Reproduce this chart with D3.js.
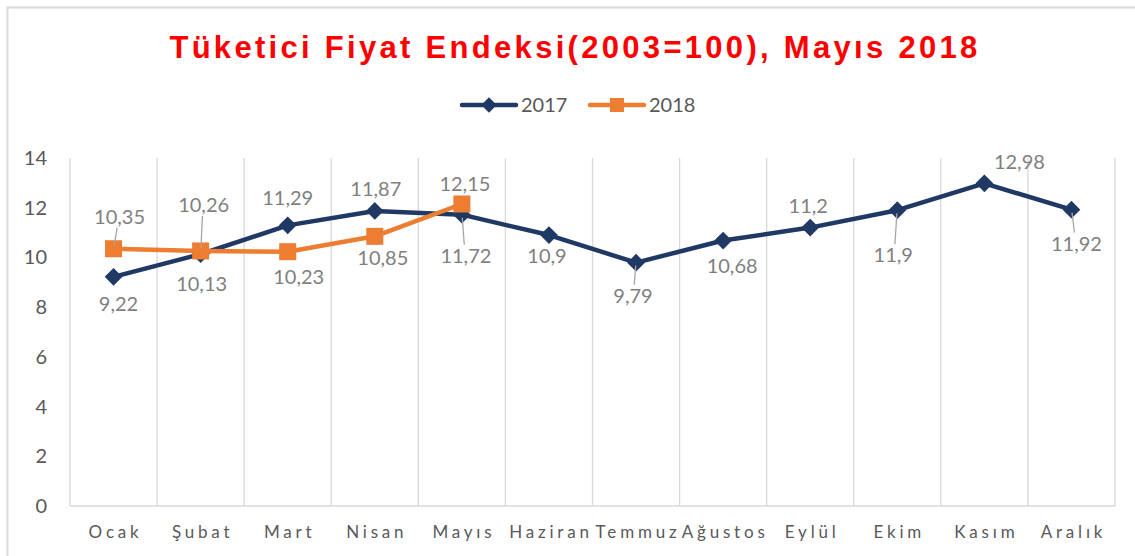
<!DOCTYPE html>
<html>
<head>
<meta charset="utf-8">
<script src="https://cdn.jsdelivr.net/npm/d3@7"></script>
<style>
  body { margin: 0; background: #fff; }
  svg { display: block; }
</style>
</head>
<body>
<script>
// veri
const months = ['Ocak', 'Şubat', 'Mart', 'Nisan', 'Mayıs', 'Haziran', 'Temmuz', 'Ağustos', 'Eylül', 'Ekim', 'Kasım', 'Aralık'];
const values2017 = [9.22, 10.13, 11.29, 11.87, 11.72, 10.9, 9.79, 10.68, 11.2, 11.9, 12.98, 11.92];
const values2018 = [10.35, 10.26, 10.23, 10.85, 12.15];
const yTicks = [0, 2, 4, 6, 8, 10, 12, 14];
const title = 'Tüketici Fiyat Endeksi(2003=100), Mayıs 2018';

// etiket konumlari (noktaya gore kaydirma) ve kilavuz cizgisi
const labelPos2017 = [
    [5, 27, false], [1, 30, false], [0, -27, false], [1, -22, false], [4, 41, true], [-2, 21, false],
    [-3, 33, true], [9, 25, false], [-2, -22, false], [-4, 45, true], [35, -21, false], [5, 34, true]
];
const labelPos2018 = [
    [6, -32, true], [3, -46, true], [11, 25, false], [8, 22, false], [3, -20, false]
];

const width = 1135;
const height = 556;
const margin = {top: 158, left: 70, right: 20, bottom: 50};
const navy = '#203864';
const orange = '#ED7D31';
const gray = '#595959';
const labelGray = '#7f7f7f';

const svg = d3.select('body')
    .append('svg')
    .attr('width', width)
    .attr('height', height);

// cerceve
svg.append('path')
    .attr('d', 'M7.5,' + height + ' V7.5 H' + width)
    .attr('fill', 'none')
    .attr('stroke', '#d9d9d9')
    .attr('stroke-width', 2);

svg.append('text')
    .attr('x', 575)
    .attr('y', 58)
    .attr('text-anchor', 'middle')
    .attr('font-family', 'Liberation Sans, Arial, sans-serif')
    .attr('font-weight', 'bold')
    .attr('font-size', 31)
    .attr('letter-spacing', 3.3)
    .attr('fill', '#ff0000')
    .text(title);

const xScale = d3.scaleBand()
    .domain(months)
    .range([margin.left, width - margin.right]);
const bw = xScale.bandwidth();
const cx = m => xScale(m) + bw / 2;

const yScale = d3.scaleLinear()
    .domain([0, 14])
    .range([height - margin.bottom, margin.top]);

// dikey kilavuz cizgileri
const bounds = months.map(m => xScale(m)).concat([width - margin.right]);
svg.append('g')
    .selectAll('line')
    .data(bounds)
    .join('line')
    .attr('x1', d => d)
    .attr('x2', d => d)
    .attr('y1', yScale(14))
    .attr('y2', yScale(0))
    .attr('stroke', '#d9d9d9')
    .attr('stroke-width', 1.3);

svg.append('line')
    .attr('x1', margin.left)
    .attr('x2', width - margin.right)
    .attr('y1', yScale(0))
    .attr('y2', yScale(0))
    .attr('stroke', '#d9d9d9')
    .attr('stroke-width', 1.5);

// y ekseni
svg.append('g')
    .selectAll('text')
    .data(yTicks)
    .join('text')
    .attr('x', 47)
    .attr('y', d => yScale(d))
    .attr('dy', '0.35em')
    .attr('text-anchor', 'end')
    .attr('font-family', 'Lato, sans-serif')
    .attr('font-size', 20)
    .attr('fill', gray)
    .text(d => d);

// x ekseni
svg.append('g')
    .selectAll('text')
    .data(months)
    .join('text')
    .attr('x', d => cx(d) + 2)
    .attr('y', 538)
    .attr('text-anchor', 'middle')
    .attr('font-family', 'Lato, sans-serif')
    .attr('font-size', 17)
    .attr('letter-spacing', 3.8)
    .attr('fill', gray)
    .text(d => d);

const line = d3.line()
    .x((d, i) => cx(months[i]))
    .y(d => yScale(d));

const diamond = d3.symbol().type(d3.symbolDiamond2).size(200);

function drawSeries(values, color, shape) {
    const g = svg.append('g');
    g.append('path')
        .datum(values)
        .attr('d', line)
        .attr('fill', 'none')
        .attr('stroke', color)
        .attr('stroke-width', 4.5)
        .attr('stroke-linejoin', 'round');
    if (shape === 'diamond') {
        g.selectAll('path.m')
            .data(values)
            .join('path')
            .attr('class', 'm')
            .attr('d', diamond)
            .attr('transform', (d, i) => 'translate(' + cx(months[i]) + ',' + yScale(d) + ')')
            .attr('fill', color);
    } else {
        g.selectAll('rect.m')
            .data(values)
            .join('rect')
            .attr('class', 'm')
            .attr('x', (d, i) => cx(months[i]) - 8.5)
            .attr('y', d => yScale(d) - 8.5)
            .attr('width', 17)
            .attr('height', 17)
            .attr('fill', color);
    }
    return g;
}

function drawLabels(values, labelPos) {
    const g = svg.append('g');
    values.forEach((v, i) => {
        const px = cx(months[i]);
        const py = yScale(v);
        const [dx, dy, leader] = labelPos[i];
        if (leader) {
            const sign = dy > 0 ? 1 : -1;
            g.append('line')
                .attr('x1', px + dx * 0.1)
                .attr('y1', py + sign * 3)
                .attr('x2', px + dx * 0.6)
                .attr('y2', py + dy - sign * 11)
                .attr('stroke', '#a6a6a6')
                .attr('stroke-width', 1.3);
        }
        g.append('text')
            .attr('x', px + dx)
            .attr('y', py + dy)
            .attr('dy', '0.35em')
            .attr('text-anchor', 'middle')
            .attr('font-family', 'Lato, sans-serif')
            .attr('font-size', 20)
            .attr('fill', labelGray)
            .text(String(v).replace('.', ','));
    });
}

drawSeries(values2017, navy, 'diamond');
drawSeries(values2018, orange, 'square');
drawLabels(values2017, labelPos2017);
drawLabels(values2018, labelPos2018);

// lejant
const legend = svg.append('g').attr('transform', 'translate(0,105)');
const legendItems = [
    {name: '2017', color: navy, shape: 'diamond', x: 462},
    {name: '2018', color: orange, shape: 'square', x: 590}
];
legendItems.forEach(it => {
    legend.append('line')
        .attr('x1', it.x)
        .attr('x2', it.x + 54)
        .attr('stroke', it.color)
        .attr('stroke-width', 4.5)
        .attr('stroke-linecap', 'round');
    if (it.shape === 'diamond') {
        legend.append('path')
            .attr('d', d3.symbol().type(d3.symbolDiamond2).size(150)())
            .attr('transform', 'translate(' + (it.x + 27) + ',0)')
            .attr('fill', it.color);
    } else {
        legend.append('rect')
            .attr('x', it.x + 20)
            .attr('y', -7)
            .attr('width', 14)
            .attr('height', 14)
            .attr('fill', it.color);
    }
    legend.append('text')
        .attr('x', it.x + 59)
        .attr('dy', '0.35em')
        .attr('font-family', 'Lato, sans-serif')
        .attr('font-size', 20)
        .attr('fill', gray)
        .text(it.name);
});
</script>
</body>
</html>
